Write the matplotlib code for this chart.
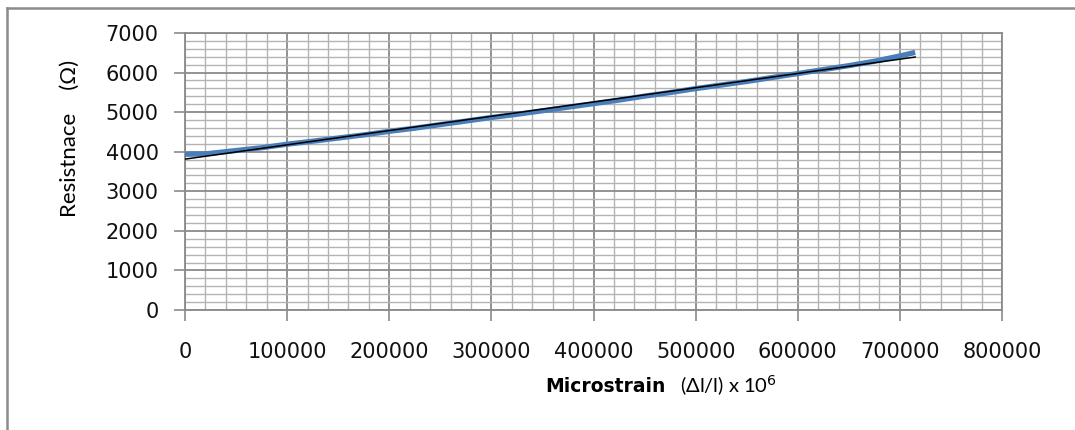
import numpy as np
import matplotlib
matplotlib.use("Agg")
import matplotlib.pyplot as plt
from matplotlib.lines import Line2D
from matplotlib.ticker import MultipleLocator

strain = [0, 20000, 50000, 75000, 100000, 125000, 150000, 175000, 200000,
          225000, 250000, 275000, 300000, 325000, 350000, 375000, 400000,
          425000, 450000, 475000, 500000, 525000, 550000, 575000, 600000,
          625000, 650000, 675000, 700000, 715000]
resistance = [3935, 3945, 4030, 4100, 4190, 4265, 4345, 4425, 4515,
              4595, 4685, 4775, 4865, 4945, 5035, 5125, 5215,
              5305, 5405, 5495, 5595, 5685, 5775, 5875, 5975,
              6075, 6175, 6285, 6420, 6510]

x_ticks = [0, 100000, 200000, 300000, 400000, 500000, 600000, 700000, 800000]
y_ticks = [0, 1000, 2000, 3000, 4000, 5000, 6000, 7000]

W, H = 1075, 430
fig = plt.figure(figsize=(W / 100, H / 100), dpi=100)
ax = fig.add_axes([185 / W, 1 - 310 / H, (1002 - 185) / W, (310 - 33) / H])

# grid like the spreadsheet chart
ax.xaxis.set_minor_locator(MultipleLocator(20000))
ax.yaxis.set_minor_locator(MultipleLocator(200))
ax.grid(which="minor", color="#b3b3b3", lw=1.0)
ax.grid(which="major", color="#8a8a8a", lw=1.3)
ax.set_axisbelow(True)

ax.plot(strain, resistance, color="#4a7ebb", lw=3.8, solid_capstyle="butt", zorder=3)

# linear trend line
k, b = np.polyfit(strain, resistance, 1)
xt = np.array([strain[0], strain[-1]])
ax.plot(xt, k * xt + b, color="black", lw=1.1, zorder=4)

ax.set_xlim(0, 800000)
ax.set_ylim(0, 7000)
ax.set_xticks(x_ticks)
ax.set_yticks(y_ticks)
ax.set_xticklabels([str(v) for v in x_ticks])
ax.set_yticklabels([str(v) for v in y_ticks])
ax.tick_params(which="major", length=8, width=1.2, color="#8a8a8a",
               labelsize=15, labelcolor="#111111")
ax.tick_params(axis="x", which="major", pad=15)
ax.tick_params(axis="y", which="major", pad=11)
ax.tick_params(which="minor", length=0)
for s in ax.spines.values():
    s.set_color("#8a8a8a")
    s.set_linewidth(1.3)

# axis titles
fig.text(70 / W, 1 - 138 / H, "Resistnace    (Ω)", rotation=90,
         ha="center", va="center", fontsize=16, family=["Lato", "DejaVu Sans"])
fig.text(545 / W, 1 - 387 / H, "Microstrain", ha="left", va="center",
         fontsize=13.5, fontweight="bold")
fig.text(680 / W, 1 - 386 / H, r"(Δl/l) x 10$^{6}$", ha="left", va="center",
         fontsize=14.5, family=["Lato", "DejaVu Sans"])

# chart frame (only top and left edges visible in the crop)
fig.add_artist(Line2D([7 / W, 7 / W], [0, 1 - 8 / H], color="#8c8c8c", lw=1.8,
                      transform=fig.transFigure))
fig.add_artist(Line2D([7 / W, 1], [1 - 8 / H, 1 - 8 / H], color="#8c8c8c", lw=1.8,
                      transform=fig.transFigure))

fig.savefig("out.png", dpi=100)
